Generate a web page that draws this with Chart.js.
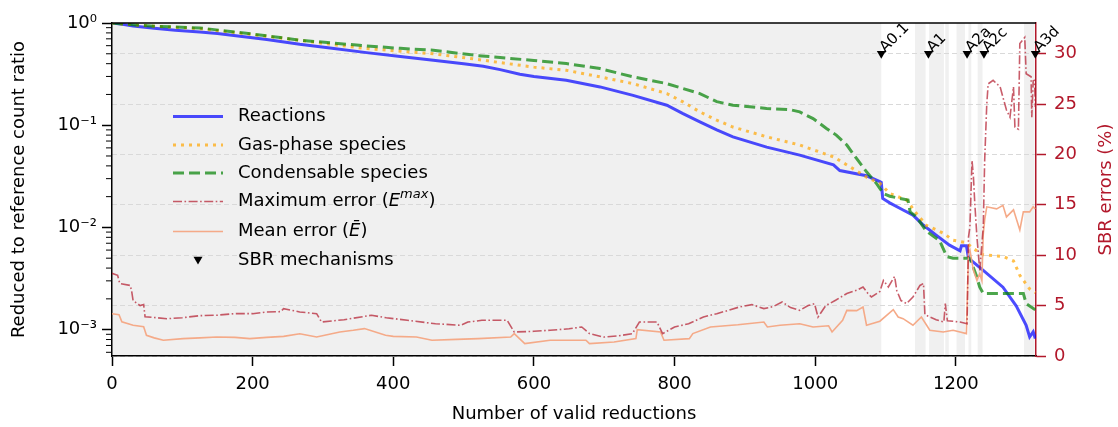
<!DOCTYPE html>
<html>
<head>
<meta charset="utf-8">
<script src="https://cdn.jsdelivr.net/npm/chart.js@4.4.0/dist/chart.umd.min.js"></script>
<style>
  html, body { margin: 0; padding: 0; background: #fff; }
  #wrap { width: 1118px; height: 427px; }
</style>
</head>
<body>
<div id="wrap"><canvas id="chart" width="1118" height="427"></canvas></div>
<script>
// values: [reduction number, value]
const reactions = [
  [0, 1.0], [15, 0.97], [30, 0.935], [60, 0.89], [90, 0.85], [125, 0.817], [150, 0.79], [182, 0.741],
  [220, 0.69], [267, 0.619], [310, 0.57], [362, 0.513], [410, 0.47], [457, 0.432], [500, 0.40],
  [528, 0.377], [552, 0.35], [580, 0.315], [600, 0.30], [646, 0.275], [694, 0.237], [741, 0.196],
  [789, 0.157], [812, 0.130], [836, 0.108], [860, 0.090], [883, 0.077], [931, 0.061], [978, 0.051],
  [1026, 0.041], [1035, 0.036], [1073, 0.032], [1092, 0.028], [1094, 0.0275], [1096, 0.0192],
  [1106, 0.0174], [1125, 0.0148], [1139, 0.0132], [1154, 0.0105], [1172, 0.0084], [1191, 0.0067],
  [1206, 0.0059], [1208, 0.0066], [1215, 0.0066], [1218, 0.0050], [1239, 0.0038], [1267, 0.0026],
  [1286, 0.0017], [1300, 0.0011], [1305, 0.00085], [1310, 0.00095], [1313, 0.00082]
];
const gasPhase = [
  [0, 1.0], [30, 0.96], [60, 0.93], [125, 0.88], [200, 0.77], [267, 0.677], [310, 0.62], [362, 0.562],
  [410, 0.53], [457, 0.50], [520, 0.44], [552, 0.41], [600, 0.37], [646, 0.345], [694, 0.297],
  [741, 0.255], [789, 0.204], [812, 0.169], [836, 0.135], [860, 0.112], [883, 0.096], [931, 0.077],
  [978, 0.064], [1026, 0.049], [1050, 0.039], [1073, 0.031], [1092, 0.027], [1106, 0.0215],
  [1130, 0.0185], [1144, 0.0137], [1158, 0.0105], [1182, 0.0088], [1196, 0.0075], [1215, 0.0071],
  [1225, 0.0062], [1239, 0.0054], [1267, 0.0052], [1282, 0.0047], [1291, 0.0034], [1305, 0.0025],
  [1313, 0.0023]
];
const condensable = [
  [0, 1.0], [30, 0.96], [60, 0.93], [125, 0.894], [200, 0.78], [267, 0.68], [310, 0.64], [362, 0.596],
  [410, 0.565], [457, 0.541], [520, 0.48], [552, 0.459], [600, 0.43], [646, 0.401], [694, 0.358],
  [741, 0.297], [789, 0.255], [836, 0.204], [860, 0.17], [883, 0.157], [931, 0.146], [964, 0.142],
  [978, 0.135], [997, 0.116], [1016, 0.093], [1030, 0.080], [1045, 0.064], [1059, 0.047],
  [1073, 0.035], [1087, 0.027], [1097, 0.0215], [1106, 0.0202], [1132, 0.0185], [1135, 0.0142],
  [1144, 0.0127], [1158, 0.0092], [1177, 0.0074], [1187, 0.0052], [1196, 0.0050], [1220, 0.0050],
  [1229, 0.0034], [1234, 0.0026], [1239, 0.00226], [1296, 0.00226], [1300, 0.0018], [1313, 0.00156]
];
const maxError = [
  [0, 8.2], [8, 8.0], [11, 7.2], [26, 7.0], [28, 6.4], [30, 5.5], [40, 5.0], [45, 5.1], [47, 3.9],
  [78, 3.7], [100, 3.8], [125, 4.0], [150, 4.05], [173, 4.2], [200, 4.2], [220, 4.37], [240, 4.4],
  [244, 4.7], [267, 4.37], [291, 4.2], [298, 3.37], [330, 3.6], [369, 4.04], [390, 3.8], [420, 3.54],
  [460, 3.2], [496, 3.05], [506, 3.37], [526, 3.54], [562, 3.54], [572, 2.38], [600, 2.45], [623, 2.55],
  [650, 2.7], [668, 2.88], [679, 2.22], [699, 1.88], [720, 2.0], [740, 2.22], [750, 3.37], [775, 3.37],
  [783, 2.22], [800, 2.88], [820, 3.2], [841, 3.87], [860, 4.2], [875, 4.5], [892, 4.86], [910, 5.1],
  [927, 4.7], [940, 4.9], [953, 5.36], [965, 4.8], [978, 4.53], [990, 5.0], [999, 5.2], [1004, 3.87],
  [1015, 5.0], [1029, 5.53], [1045, 6.2], [1059, 6.52], [1068, 6.85], [1075, 6.2], [1080, 5.85],
  [1092, 6.4], [1097, 7.5], [1104, 6.85], [1113, 7.9], [1116, 6.5], [1122, 5.5], [1130, 5.2],
  [1139, 5.85], [1149, 7.0], [1154, 7.2], [1156, 4.1], [1172, 3.6], [1183, 3.37], [1185, 5.2],
  [1188, 3.5], [1206, 3.37], [1216, 3.2], [1218, 11.8], [1220, 12.8], [1223, 19.4], [1225, 17.8],
  [1227, 15.1], [1230, 11.8], [1234, 8.5], [1239, 12.8], [1241, 19.4], [1244, 25.0], [1246, 27.0],
  [1253, 27.35], [1263, 26.7], [1272, 24.4], [1277, 23.7], [1280, 25.5], [1282, 26.7], [1284, 22.7],
  [1289, 22.5], [1291, 31.0], [1298, 31.6], [1300, 28.0], [1307, 27.7], [1308, 23.7], [1310, 27.3],
  [1312, 27.35], [1313, 24.7]
];
const meanError = [
  [0, 4.2], [10, 4.1], [14, 3.4], [30, 3.05], [45, 2.9], [49, 2.05], [60, 1.8], [73, 1.56], [101, 1.72],
  [125, 1.8], [149, 1.88], [175, 1.85], [196, 1.72], [220, 1.85], [244, 1.95], [267, 2.2], [291, 1.88],
  [324, 2.38], [343, 2.55], [359, 2.72], [389, 2.05], [400, 1.95], [433, 1.88], [455, 1.56], [490, 1.65],
  [521, 1.72], [567, 1.88], [572, 2.22], [587, 1.23], [623, 1.56], [674, 1.56], [679, 1.23], [714, 1.39],
  [745, 1.72], [747, 2.62], [780, 2.38], [785, 1.56], [821, 1.72], [826, 2.22], [851, 2.88], [890, 3.1],
  [927, 3.37], [932, 2.88], [950, 3.05], [978, 3.2], [997, 2.88], [1019, 3.0], [1024, 2.38], [1039, 3.54],
  [1045, 4.53], [1059, 4.5], [1068, 4.86], [1073, 3.05], [1092, 3.45], [1111, 4.6], [1118, 3.87],
  [1125, 3.7], [1139, 3.05], [1151, 3.87], [1163, 2.55], [1182, 2.38], [1196, 2.55], [1206, 2.38],
  [1215, 2.22], [1218, 10.2], [1220, 10.5], [1225, 8.5], [1230, 7.5], [1234, 8.17], [1237, 7.5],
  [1239, 12.1], [1241, 13.5], [1244, 14.8], [1258, 14.6], [1267, 14.95], [1272, 13.8], [1282, 14.5],
  [1291, 12.5], [1296, 14.3], [1305, 14.3], [1310, 14.8], [1313, 14.6]
];

const sbrNames = ['A0.1', 'A1', 'A2a', 'A2c', 'A3d'];
const sbrReductions = [1094, 1161, 1216, 1240, 1313];
const sbrMarkerLevel = 30;

// grey shaded ranges of reductions
const shadedSpans = [[0, 1094], [1142, 1157], [1162, 1183], [1185, 1190], [1201, 1213],
  [1218, 1222], [1231, 1238], [1297, 1312]];

const ratioDecades = [1e-3, 1e-2, 1e-1, 1];
const errorTicks = [0, 5, 10, 15, 20, 25, 30];
const xMax = 1314;

const RED = '#b2182b';
const FONT = { family: '"DejaVu Sans"', size: 18 };
const supDigits = { '-': '\u207B', '0': '\u2070', '1': '\u00B9', '2': '\u00B2', '3': '\u00B3' };
const toXY = arr => arr.map(([x, y]) => ({ x, y }));

const shadePlugin = {
  id: 'shade',
  beforeDraw(chart) {
    const { ctx, chartArea: ca, scales: { x } } = chart;
    ctx.save();
    ctx.fillStyle = '#f0f0f0';
    shadedSpans.forEach(([a, b]) => {
      const x1 = x.getPixelForValue(a), x2 = x.getPixelForValue(b);
      ctx.fillRect(x1, ca.top, x2 - x1, ca.bottom - ca.top);
    });
    ctx.restore();
  }
};

const decoPlugin = {
  id: 'deco',
  afterDatasetsDraw(chart) {
    const { ctx, chartArea: ca, scales: { x, y, y1 } } = chart;
    ctx.save();
    // top spine
    ctx.strokeStyle = '#000';
    ctx.lineWidth = 1.5;
    ctx.beginPath();
    ctx.moveTo(ca.left - 0.75, ca.top);
    ctx.lineTo(ca.right, ca.top);
    ctx.stroke();

    // minor ticks of the log axis
    ctx.lineWidth = 1;
    for (let k = -4; k < 0; k++) {
      for (let m = 2; m <= 9; m++) {
        const v = m * Math.pow(10, k);
        if (v < y.min || v > y.max) continue;
        const py = y.getPixelForValue(v);
        ctx.beginPath();
        ctx.moveTo(ca.left - 6, py);
        ctx.lineTo(ca.left, py);
        ctx.stroke();
      }
    }

    // SBR labels
    ctx.fillStyle = '#000';
    ctx.font = '15px "DejaVu Sans"';
    ctx.textAlign = 'left';
    ctx.textBaseline = 'alphabetic';
    sbrNames.forEach((name, i) => {
      const px = x.getPixelForValue(sbrReductions[i]);
      const py = y1.getPixelForValue(sbrMarkerLevel);
      ctx.save();
      ctx.translate(px + 4, py - 1);
      ctx.rotate(-Math.PI / 4);
      ctx.fillText(name, 0, 0);
      ctx.restore();
    });
    ctx.restore();
  },
  afterDraw(chart) {
    const { ctx, chartArea: ca } = chart;
    ctx.save();
    // right axis title, read bottom to top
    ctx.fillStyle = RED;
    ctx.font = '18px "DejaVu Sans"';
    ctx.textAlign = 'center';
    ctx.textBaseline = 'middle';
    ctx.translate(1106, (ca.top + ca.bottom) / 2);
    ctx.rotate(-Math.PI / 2);
    ctx.fillText('SBR errors (%)', 0, 0);
    ctx.restore();

    // legend
    const byLabel = {};
    chart.data.datasets.forEach(ds => { byLabel[ds.label] = ds; });
    const f = '18px "DejaVu Sans"', fi = 'italic 18px "DejaVu Sans"', fs = 'italic 13px "DejaVu Sans"';
    const rows = [
      { ds: 'Reactions', dy: 93.5, parts: [[f, 'Reactions']] },
      { ds: 'Gas-phase species', dy: 122, parts: [[f, 'Gas-phase species']] },
      { ds: 'Condensable species', dy: 150, parts: [[f, 'Condensable species']] },
      { ds: 'Maximum error', dy: 178.5, parts: [[f, 'Maximum error ('], [fi, 'E'], [fs, 'max', -7], [f, ')']] },
      { ds: 'Mean error', dy: 208.5, parts: [[f, 'Mean error ('], [fi, '\u0112'], [f, ')']] },
      { ds: 'SBR mechanisms', dy: 237.5, parts: [[f, 'SBR mechanisms']] }
    ];
    const lx1 = ca.left + 61, lx2 = ca.left + 111, tx = ca.left + 126;
    rows.forEach(r => {
      const ds = byLabel[r.ds];
      const ry = ca.top + r.dy;
      ctx.save();
      if (r.ds === 'SBR mechanisms') {
        const cx = (lx1 + lx2) / 2;
        ctx.fillStyle = '#000';
        ctx.beginPath();
        ctx.moveTo(cx - 4.5, ry - 3.8);
        ctx.lineTo(cx + 4.5, ry - 3.8);
        ctx.lineTo(cx, ry + 4);
        ctx.closePath();
        ctx.fill();
      } else {
        ctx.strokeStyle = ds.borderColor;
        ctx.lineWidth = ds.borderWidth;
        ctx.setLineDash(ds.borderDash || []);
        ctx.beginPath();
        ctx.moveTo(lx1, ry);
        ctx.lineTo(lx2, ry);
        ctx.stroke();
      }
      ctx.restore();
      ctx.save();
      ctx.fillStyle = '#000';
      ctx.textBaseline = 'middle';
      ctx.textAlign = 'left';
      let cx = tx;
      r.parts.forEach(([font, text, off]) => {
        ctx.font = font;
        ctx.fillText(text, cx, ry + (off || 0));
        cx += ctx.measureText(text).width;
      });
      ctx.restore();
    });
  }
};

new Chart(document.getElementById('chart'), {
  type: 'line',
  data: {
    datasets: [
      {
        label: 'SBR mechanisms',
        data: sbrReductions.map(v => ({ x: v, y: sbrMarkerLevel })),
        yAxisID: 'y1',
        showLine: false,
        pointStyle: 'triangle',
        pointRotation: 180,
        pointRadius: 5.2,
        pointBackgroundColor: '#000',
        pointBorderColor: '#000',
        pointBorderWidth: 0,
        clip: false
      },
      {
        label: 'Maximum error',
        data: toXY(maxError),
        yAxisID: 'y1',
        borderColor: 'rgba(178,24,43,0.7)',
        borderWidth: 1.6,
        borderDash: [9, 2.5, 1.6, 2.5],
        pointRadius: 0,
        tension: 0
      },
      {
        label: 'Mean error',
        data: toXY(meanError),
        yAxisID: 'y1',
        borderColor: 'rgba(244,165,130,0.95)',
        borderWidth: 1.6,
        pointRadius: 0,
        tension: 0
      },
      {
        label: 'Condensable species',
        data: toXY(condensable),
        yAxisID: 'y',
        borderColor: 'rgba(0,128,0,0.7)',
        borderWidth: 3,
        borderDash: [11, 5],
        pointRadius: 0,
        tension: 0
      },
      {
        label: 'Gas-phase species',
        data: toXY(gasPhase),
        yAxisID: 'y',
        borderColor: 'rgba(255,165,0,0.7)',
        borderWidth: 3,
        borderDash: [3, 5],
        pointRadius: 0,
        tension: 0
      },
      {
        label: 'Reactions',
        data: toXY(reactions),
        yAxisID: 'y',
        borderColor: 'rgba(0,0,255,0.7)',
        borderWidth: 3,
        pointRadius: 0,
        tension: 0
      }
    ]
  },
  options: {
    responsive: false,
    animation: false,
    events: [],
    layout: { padding: { top: 23, left: 0, right: 0, bottom: 0 } },
    plugins: { legend: { display: false }, tooltip: { enabled: false } },
    scales: {
      x: {
        type: 'linear',
        min: 0,
        max: xMax,
        afterFit: s => { s.height = 71; },
        ticks: { stepSize: 200, includeBounds: false, color: '#000', font: FONT, padding: 8, maxRotation: 0, callback: v => String(v) },
        grid: { drawOnChartArea: false, tickLength: 10, tickWidth: 1.5, tickColor: '#000' },
        border: { color: '#000', width: 1.5 },
        title: { display: true, text: 'Number of valid reductions', color: '#000', font: FONT, padding: { top: 0, bottom: 2 } }
      },
      y: {
        type: 'logarithmic',
        position: 'left',
        min: 5.52e-4,
        max: 1,
        afterBuildTicks: s => { s.ticks = ratioDecades.map(v => ({ value: v })); },
        afterFit: s => { s.width = 112; },
        ticks: {
          color: '#000',
          font: FONT,
          padding: 5,
          callback: v => '10' + String(Math.round(Math.log10(v))).split('').map(c => supDigits[c]).join('')
        },
        grid: { drawOnChartArea: false, tickLength: 10, tickWidth: 1.5, tickColor: '#000' },
        border: { color: '#000', width: 1.5 },
        title: { display: true, text: 'Reduced to reference count ratio', color: '#000', font: FONT, padding: { top: 9, bottom: 0 } }
      },
      y1: {
        type: 'linear',
        position: 'right',
        min: 0,
        max: 33.04,
        afterBuildTicks: s => { s.ticks = errorTicks.map(v => ({ value: v })); },
        afterFit: s => { s.width = 82; },
        ticks: { color: RED, font: FONT, padding: 8 },
        grid: { drawOnChartArea: true, color: '#d9d9d9', lineWidth: 1, tickLength: 10, tickWidth: 1.5, tickColor: RED },
        border: { color: RED, width: 1.5, dash: [5, 3] }
      }
    }
  },
  plugins: [shadePlugin, decoPlugin]
});
</script>
</body>
</html>
